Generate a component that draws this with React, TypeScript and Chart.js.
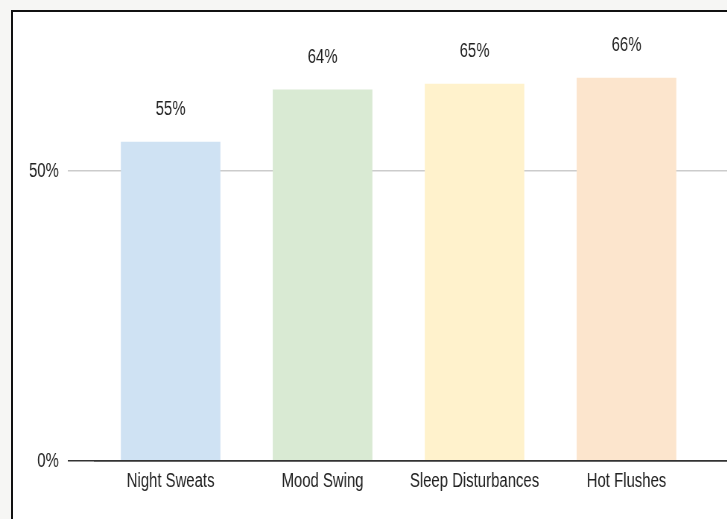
import React, { useEffect, useRef } from "react";
import { Chart, registerables } from "chart.js";

Chart.register(...registerables);

const categories = ["Night Sweats", "Mood Swing", "Sleep Disturbances", "Hot Flushes"];
const percentages = [55, 64, 65, 66];
const barColors = ["#cfe2f3", "#d9ead3", "#fff2cc", "#fce5cd"];
const yTickValues = [0, 50];

const FONT_FAMILY = "'Liberation Sans', Arial, sans-serif";
const FONT_SIZE = 20;
const SQUEEZE_X = 0.745;
const CANVAS_W = 1000;
const CANVAS_H = 519;

export default function App() {
  const ref = useRef<HTMLCanvasElement>(null);

  useEffect(() => {
    const canvas = ref.current;
    if (!canvas) return;

    const valueLabels = {
      id: "valueLabels",
      afterDatasetsDraw(chart: any) {
        const ctx = chart.ctx;
        const meta = chart.getDatasetMeta(0);
        ctx.save();
        ctx.font = `${FONT_SIZE}px ${FONT_FAMILY}`;
        ctx.fillStyle = "#222";
        ctx.textAlign = "center";
        ctx.textBaseline = "middle";
        meta.data.forEach((bar: any, i: number) => {
          ctx.fillText(`${percentages[i]}%`, bar.x, bar.y - 32.5);
        });
        ctx.restore();
      },
    };

    const chart = new Chart(canvas, {
      type: "bar",
      data: {
        datasets: [
          {
            data: percentages.map((v, i) => ({ x: i, y: v })),
            backgroundColor: barColors,
            borderWidth: 0,
            barThickness: 133,
          },
        ],
      },
      options: {
        animation: false,
        responsive: false,
        devicePixelRatio: 1,
        layout: { padding: { top: 26, left: 0, right: 0, bottom: 0 } },
        plugins: {
          legend: { display: false },
          tooltip: { enabled: false },
        },
        scales: {
          x: {
            type: "linear",
            offset: false,
            min: -0.5,
            max: 3.78,
            afterBuildTicks: (axis: any) => {
              axis.ticks = categories.map((_, i) => ({ value: i }));
            },
            afterFit: (scale: any) => {
              scale.height = 58;
              scale.paddingLeft = 0;
              scale.paddingRight = 0;
            },
            grid: { display: false, drawTicks: false, offset: false },
            border: { display: true, color: "#333", width: 1.6, z: 1 },
            ticks: {
              callback: (v: any) => categories[v] ?? "",
              color: "#222",
              font: { family: FONT_FAMILY, size: FONT_SIZE },
              padding: 8,
              maxRotation: 0,
              autoSkip: false,
            },
          },
          y: {
            min: 0,
            max: 75,
            afterBuildTicks: (axis: any) => {
              axis.ticks = yTickValues.map((v) => ({ value: v }));
            },
            afterFit: (scale: any) => {
              scale.width = 127;
            },
            grid: {
              color: (ctx: any) => (ctx.tick && ctx.tick.value === 0 ? "#333" : "#cccccc"),
              lineWidth: (ctx: any) => (ctx.tick && ctx.tick.value === 0 ? 1.6 : 1.5),
              drawTicks: true,
              tickLength: 36,
            },
            border: { display: false },
            ticks: {
              callback: (v: any) => `${v}%`,
              color: "#222",
              font: { family: FONT_FAMILY, size: FONT_SIZE },
              padding: 12,
            },
          },
        },
      } as any,
      plugins: [valueLabels],
    });

    return () => chart.destroy();
  }, []);

  return (
    <div
      style={{
        position: "fixed",
        left: 0,
        top: 0,
        width: 727,
        height: 519,
        overflow: "hidden",
        background: "#f6f6f4",
      }}
    >
      <div
        style={{
          position: "absolute",
          left: 11,
          top: 10,
          width: 900,
          height: 700,
          border: "2px solid #111",
          background: "#ffffff",
        }}
      />
      <div
        style={{
          position: "absolute",
          left: 0,
          top: 0,
          transform: `scaleX(${SQUEEZE_X})`,
          transformOrigin: "0 0",
        }}
      >
        <canvas
          ref={ref}
          width={CANVAS_W}
          height={CANVAS_H}
          style={{ display: "block", width: CANVAS_W, height: CANVAS_H }}
        />
      </div>
    </div>
  );
}
